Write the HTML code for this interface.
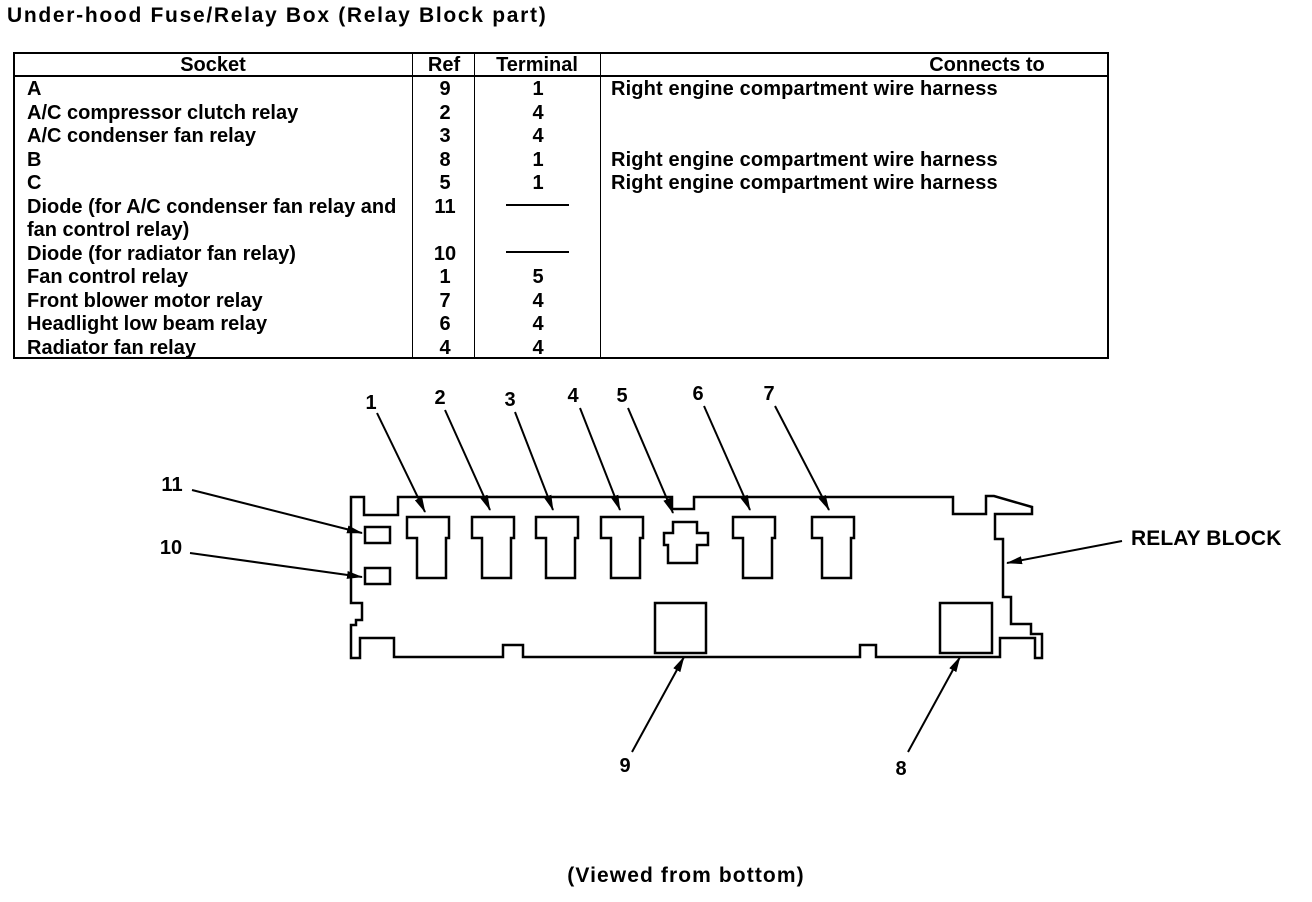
<!DOCTYPE html>
<html><head><meta charset="utf-8"><style>
body{margin:0;background:#fff;width:1312px;height:902px;position:relative;overflow:hidden;font-family:"Liberation Sans",Arial,sans-serif;font-weight:bold;color:#000}
.t{position:absolute;font-size:20px;line-height:20px;white-space:nowrap;letter-spacing:0px}
.c{text-align:center;transform:translateX(-50%)}
.l{position:absolute;background:#000}
</style></head><body>
<div class="t" style="left:7px;top:6px;font-size:21px;letter-spacing:1.7px">Under-hood Fuse/Relay Box (Relay Block part)</div>
<div style="position:absolute;left:13px;top:52px;width:1092px;height:303px;border:2px solid #000"></div>
<div class="l" style="left:13px;top:75px;width:1094px;height:2px"></div>
<div class="l" style="left:412px;top:52px;width:1px;height:305px"></div>
<div class="l" style="left:474px;top:52px;width:1px;height:305px"></div>
<div class="l" style="left:600px;top:52px;width:1px;height:305px"></div>
<div class="t c" style="left:213px;top:55px">Socket</div>
<div class="t c" style="left:444px;top:55px">Ref</div>
<div class="t c" style="left:537px;top:55px">Terminal</div>
<div class="t c" style="left:987px;top:55px">Connects to</div>
<div class="t" style="left:27px;top:78px;line-height:23.5px">A<br>A/C compressor clutch relay<br>A/C condenser fan relay<br>B<br>C<br>Diode (for A/C condenser fan relay and<br>fan control relay)<br>Diode (for radiator fan relay)<br>Fan control relay<br>Front blower motor relay<br>Headlight low beam relay<br>Radiator fan relay</div>
<div class="t" style="left:428px;top:78px;line-height:23.5px;width:34px;text-align:center">9<br>2<br>3<br>8<br>5<br>11<br><br>10<br>1<br>7<br>6<br>4</div>
<div class="t" style="left:521px;top:78px;line-height:23.5px;width:34px;text-align:center">1<br>4<br>4<br>1<br>1<br><br><br><br>5<br>4<br>4<br>4</div>
<div class="l" style="left:506px;top:204px;width:63px;height:2px"></div>
<div class="l" style="left:506px;top:251px;width:63px;height:2px"></div>
<div class="t" style="left:611px;top:78px;line-height:23.5px;letter-spacing:0.15px">Right engine compartment wire harness<br><br><br>Right engine compartment wire harness<br>Right engine compartment wire harness</div>

<svg width="1312" height="902" style="position:absolute;left:0;top:0">
<defs><marker id="a" markerWidth="16" markerHeight="10" refX="15" refY="5" orient="auto" markerUnits="userSpaceOnUse"><path d="M0,1 L16,5 L0,9 Z" fill="#000"/></marker></defs>
<g fill="none" stroke="#000" stroke-width="2.5">
<path d="M351,497 H364 V515 H398 V497 H672 V509 H694 V497 H953 V514 H986 V496 H994 L1032,507 V514 H995 V539 H1003 V597 H1011 V624 H1031 V634 H1042 V658 H1035 V638 H1000 V657 H876 V645 H860 V657 H523 V645 H503 V657 H394 V638 H360 V658 H351 V625 H356 V620 H362 V603 H351 Z"/>
<g id="r"><path d="M407,517 H449 V538 H446 V578 H417 V538 H407 Z"/></g>
<use href="#r" x="65"/><use href="#r" x="129"/><use href="#r" x="194"/><use href="#r" x="326"/><use href="#r" x="405"/>
<path d="M673,522 H697 V533 H708 V545 H697 V563 H668 V545 H664 V533 H673 Z"/>
<rect x="365" y="527" width="25" height="16"/><rect x="365" y="568" width="25" height="16"/>
<rect x="655" y="603" width="51" height="50"/><rect x="940" y="603" width="52" height="50"/>
</g>
<g stroke="#000" stroke-width="2" marker-end="url(#a)">
<line x1="377" y1="413" x2="425" y2="512"/>
<line x1="445" y1="410" x2="490" y2="510"/>
<line x1="515" y1="412" x2="553" y2="510"/>
<line x1="580" y1="408" x2="620" y2="510"/>
<line x1="628" y1="408" x2="673" y2="513"/>
<line x1="704" y1="406" x2="750" y2="510"/>
<line x1="775" y1="406" x2="829" y2="510"/>
<line x1="192" y1="490" x2="362" y2="533"/>
<line x1="190" y1="553" x2="362" y2="577"/>
<line x1="1122" y1="541" x2="1007" y2="563"/>
<line x1="632" y1="752" x2="684" y2="657"/>
<line x1="908" y1="752" x2="960" y2="657"/>
</g>
</svg>
<div class="t c" style="left:371px;top:393px">1</div>
<div class="t c" style="left:440px;top:388px">2</div>
<div class="t c" style="left:510px;top:390px">3</div>
<div class="t c" style="left:573px;top:386px">4</div>
<div class="t c" style="left:622px;top:386px">5</div>
<div class="t c" style="left:698px;top:384px">6</div>
<div class="t c" style="left:769px;top:384px">7</div>
<div class="t c" style="left:172px;top:475px">11</div>
<div class="t c" style="left:171px;top:538px">10</div>
<div class="t" style="left:1131px;top:529px;font-size:21px;letter-spacing:0.1px">RELAY BLOCK</div>
<div class="t c" style="left:625px;top:756px">9</div>
<div class="t c" style="left:901px;top:759px">8</div>
<div class="t c" style="left:686px;top:866px;font-size:21px;letter-spacing:1.1px">(Viewed from bottom)</div>
</body></html>
